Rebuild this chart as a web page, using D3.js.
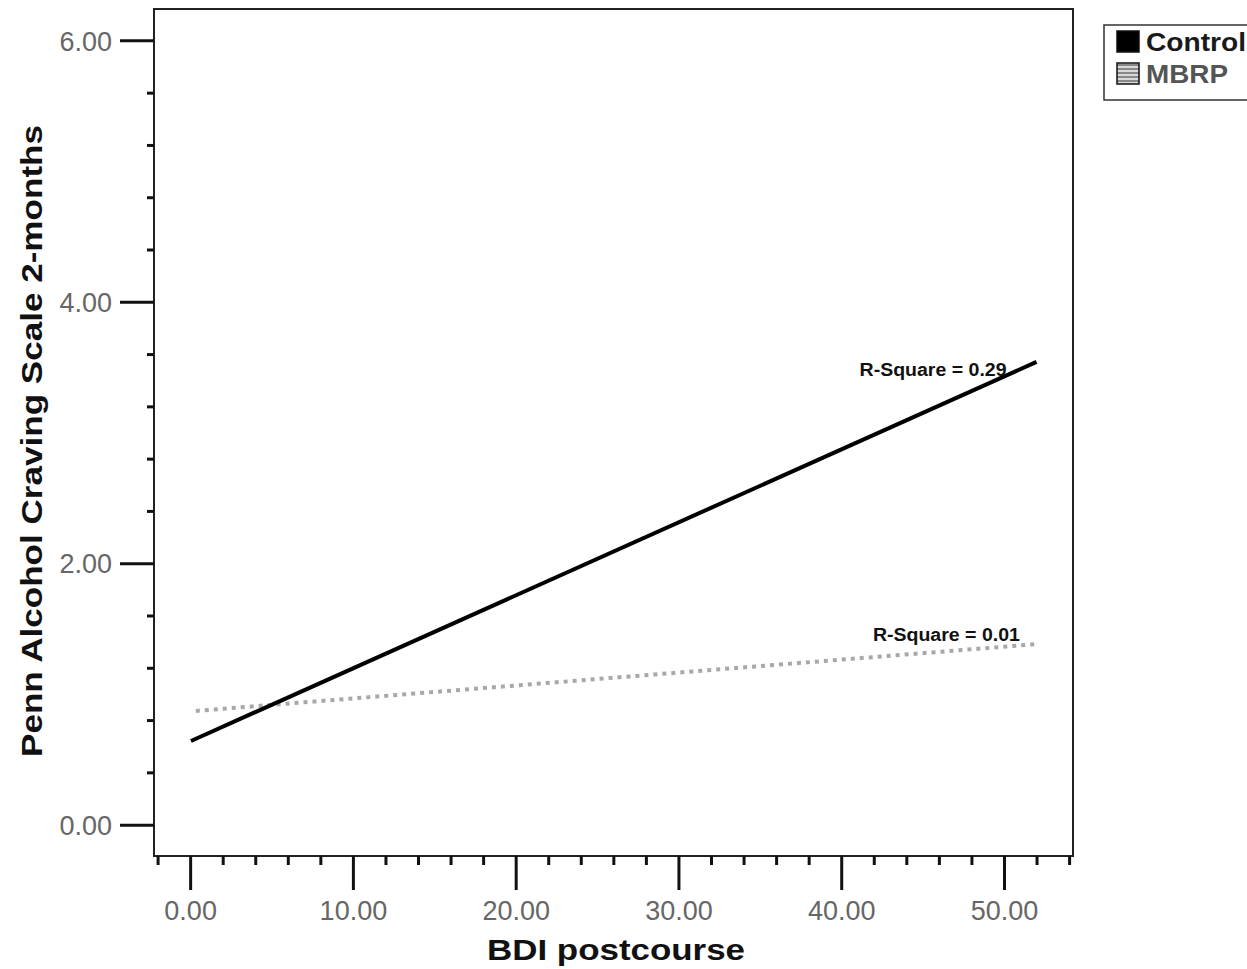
<!DOCTYPE html>
<html>
<head>
<meta charset="utf-8">
<script src="https://cdn.jsdelivr.net/npm/d3@7"></script>
<style>
  body { margin: 0; background: #fff; }
  svg { display: block; font-family: "Liberation Sans", Arial, sans-serif; }
</style>
</head>
<body>
<svg id="chart" width="1247" height="969"></svg>
<script>
// ---- data ----
const seriesNames = ["Control", "MBRP"];
const controlLine = [{x: 0.05, y: 0.64}, {x: 52.0, y: 3.54}];
const mbrpLine = [{x: 0.35, y: 0.87}, {x: 51.9, y: 1.38}];
const rSquareLabels = ["R-Square = 0.29", "R-Square = 0.01"];
const xMajorTicks = [0, 10, 20, 30, 40, 50];
const xMinorTicks = [-2, 2, 4, 6, 8, 12, 14, 16, 18, 22, 24, 26, 28, 32, 34, 36, 38, 42, 44, 46, 48, 52, 54];
const yMajorTicks = [0, 2, 4, 6];
const yMinorTicks = [0.4, 0.8, 1.2, 1.6, 2.4, 2.8, 3.2, 3.6, 4.4, 4.8, 5.2, 5.6];
const xTitle = "BDI postcourse";
const yTitle = "Penn Alcohol Craving Scale 2-months";

// ---- layout ----
const L = 154, R = 1073, T = 9, B = 856;
const svg = d3.select("#chart");

const x = d3.scaleLinear().domain([-2.22, 54.24]).range([L, R]);
const y = d3.scaleLinear().domain([-0.24, 6.24]).range([B, T]);

// frame
svg.append("rect")
  .attr("x", L).attr("y", T).attr("width", R - L).attr("height", B - T)
  .attr("fill", "none").attr("stroke", "#222").attr("stroke-width", 2);

// y axis
const yMaj = svg.append("g").attr("transform", `translate(${L},0)`)
  .call(d3.axisLeft(y).tickValues(yMajorTicks).tickSize(34).tickPadding(8).tickFormat(d3.format(".2f")));
const yMin = svg.append("g").attr("transform", `translate(${L},0)`)
  .call(d3.axisLeft(y).tickValues(yMinorTicks).tickSize(7).tickFormat(""));
// x axis
const xMaj = svg.append("g").attr("transform", `translate(0,${B})`)
  .call(d3.axisBottom(x).tickValues(xMajorTicks).tickSize(34).tickPadding(11).tickFormat(d3.format(".2f")));
const xMin = svg.append("g").attr("transform", `translate(0,${B})`)
  .call(d3.axisBottom(x).tickValues(xMinorTicks).tickSize(9).tickFormat(""));

[yMaj, yMin, xMaj, xMin].forEach(g => {
  g.select(".domain").remove();
  g.selectAll(".tick line").attr("stroke", "#111").attr("stroke-width", 3);
  g.selectAll(".tick text")
    .attr("fill", "#666")
    .style("font-family", '"Liberation Sans", Arial, sans-serif')
    .style("font-size", "27px");
});
yMaj.selectAll(".tick text").attr("dy", "0.36em");

// lines
const lineGen = d3.line().x(d => x(d.x)).y(d => y(d.y));
svg.append("path").datum(mbrpLine).attr("d", lineGen)
  .attr("fill", "none").attr("stroke", "#a8a8a8").attr("stroke-width", 4)
  .attr("stroke-dasharray", "4,5");
svg.append("path").datum(controlLine).attr("d", lineGen)
  .attr("fill", "none").attr("stroke", "#000").attr("stroke-width", 4);

// R-square labels
svg.append("text")
  .attr("x", x(controlLine[1].x) - 30).attr("y", y(controlLine[1].y) + 14)
  .attr("text-anchor", "end")
  .attr("textLength", 147).attr("lengthAdjust", "spacingAndGlyphs")
  .style("font-size", "18px").style("font-weight", "bold").attr("fill", "#111")
  .text(rSquareLabels[0]);
svg.append("text")
  .attr("x", x(mbrpLine[1].x) - 15).attr("y", y(mbrpLine[1].y) - 3)
  .attr("text-anchor", "end")
  .attr("textLength", 147).attr("lengthAdjust", "spacingAndGlyphs")
  .style("font-size", "18px").style("font-weight", "bold").attr("fill", "#111")
  .text(rSquareLabels[1]);

// axis titles
svg.append("text")
  .attr("x", 616).attr("y", 960)
  .attr("text-anchor", "middle")
  .attr("textLength", 258).attr("lengthAdjust", "spacingAndGlyphs")
  .style("font-size", "30px").style("font-weight", "bold").attr("fill", "#111")
  .text(xTitle);
svg.append("text")
  .attr("transform", `translate(42,${(125 + 757) / 2}) rotate(-90)`)
  .attr("text-anchor", "middle")
  .attr("textLength", 632).attr("lengthAdjust", "spacingAndGlyphs")
  .style("font-size", "30px").style("font-weight", "bold").attr("fill", "#111")
  .text(yTitle);

// legend
const defs = svg.append("defs");
const pat = defs.append("pattern").attr("id", "stripes")
  .attr("patternUnits", "userSpaceOnUse").attr("width", 6).attr("height", 4);
pat.append("rect").attr("width", 6).attr("height", 4).attr("fill", "#d8d8d8");
pat.append("rect").attr("width", 6).attr("height", 2).attr("fill", "#8a8a8a");

const lg = svg.append("g");
lg.append("rect").attr("x", 1104).attr("y", 25).attr("width", 170).attr("height", 75)
  .attr("fill", "#fff").attr("stroke", "#333").attr("stroke-width", 1.5);
const legendFills = ["#000", "url(#stripes)"];
const legendText = ["#1a1a1a", "#555"];
const legendLen = [100, 82];
seriesNames.forEach((name, i) => {
  const yy = 31 + i * 32;
  lg.append("rect").attr("x", 1117).attr("y", yy).attr("width", 22).attr("height", 21)
    .attr("fill", legendFills[i]).attr("stroke", "#111").attr("stroke-width", 1.5);
  lg.append("text").attr("x", 1146).attr("y", yy + 20)
    .attr("textLength", legendLen[i]).attr("lengthAdjust", "spacingAndGlyphs")
    .style("font-size", "26px").style("font-weight", "bold").attr("fill", legendText[i])
    .text(name);
});
</script>
</body>
</html>
